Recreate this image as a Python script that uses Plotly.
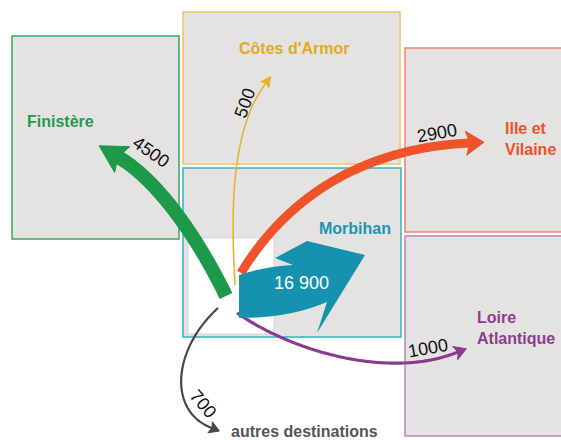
import numpy as np
import plotly.graph_objects as go

# ---------------- data ----------------
destinations = ["Finistère", "Côtes d'Armor", "Ille et Vilaine", "Morbihan",
                "Loire Atlantique", "autres destinations"]
flows = [4500, 500, 2900, 16900, 1000, 700]
flow_labels = ["4500", "500", "2900", "16 900", "1000", "700"]

# ---------------- styling / geometry (pixel space) ----------------
W, H = 561, 440
BOX_FILL = "#e5e3e2"
arrow_col = {"Finistère": "#1c9a4a", "Côtes d'Armor": "#e6b42c", "Ille et Vilaine": "#f0522a",
             "Morbihan": "#1592b0", "Loire Atlantique": "#8c3a8e", "autres destinations": "#474747"}
text_col = {"Finistère": "#1f9b4b", "Côtes d'Armor": "#e2aa22", "Ille et Vilaine": "#ef5027",
            "Morbihan": "#1a95b5", "Loire Atlantique": "#8e3c90", "autres destinations": "#555555"}
border_col = {"Finistère": "#3aa863", "Côtes d'Armor": "#e9c56a", "Ille et Vilaine": "#ec8272",
              "Morbihan": "#35b2c4", "Loire Atlantique": "#b985c0"}
boxes = {"Finistère": (12, 36, 179, 239), "Côtes d'Armor": (183, 12, 400, 164),
         "Morbihan": (183, 168, 401, 337), "Ille et Vilaine": (405, 48, 566, 232),
         "Loire Atlantique": (405, 236, 566, 436)}

# bezier control points of the curved flows
curves = {
    "Finistère": [(226, 296), (204, 250), (162, 182), (118, 157)],
    "Côtes d'Armor": [(235, 285), (231, 215), (230, 130), (266, 83)],
    "Ille et Vilaine": [(241, 273), (285, 200), (360, 148), (470, 143)],
    "Loire Atlantique": [(237, 313), (300, 356), (395, 378), (458, 352)],
    "autres destinations": [(218, 308), (172, 350), (168, 412), (212, 428)],
}
head_size = {"Finistère": (27, 15, 5), "Côtes d'Armor": (10, 5, 2), "Ille et Vilaine": (18, 12, 4),
             "Loire Atlantique": (12, 7, 3), "autres destinations": (10, 6, 2)}
K = 0.0031  # stroke width per flow unit


def bezier(p, n=120):
    p = np.array(p, dtype=float)
    t = np.linspace(0, 1, n)[:, None]
    return ((1 - t) ** 3) * p[0] + 3 * ((1 - t) ** 2) * t * p[1] + 3 * (1 - t) * t ** 2 * p[2] + t ** 3 * p[3]


def head(p_end, p_prev, L, hw, notch):
    d = np.array(p_end, float) - np.array(p_prev, float)
    d /= np.linalg.norm(d)
    nrm = np.array([-d[1], d[0]])
    base = np.array(p_end, float) - d * notch
    tip = base + d * L
    a = base + nrm * hw
    b = base - nrm * hw
    c = base + d * notch
    pts = [tip, a, c, b, tip]
    return [q[0] for q in pts], [q[1] for q in pts]


fig = go.Figure()
shapes = []
for name, (x0, y0, x1, y1) in boxes.items():
    shapes.append(dict(type="rect", x0=x0, y0=y0, x1=x1, y1=y1, fillcolor=BOX_FILL,
                       line=dict(color=border_col[name], width=1.5), layer="below"))
# white inner area in Morbihan
shapes.append(dict(type="rect", x0=188, y0=238, x1=274, y1=334, fillcolor="#ffffff",
                   line=dict(color="#d6d6d6", width=1), layer="below"))

# curved flows
for name, val in zip(destinations, flows):
    if name == "Morbihan":
        continue
    pts = bezier(curves[name])
    col = arrow_col[name]
    fig.add_trace(go.Scatter(x=pts[:, 0], y=pts[:, 1], mode="lines",
                             line=dict(color=col, width=max(val * K, 1.5), shape="spline"),
                             hoverinfo="skip", showlegend=False))
    L, hw, notch = head_size[name]
    hx, hy = head(pts[-1], pts[-4], L, hw, notch)
    fig.add_trace(go.Scatter(x=hx, y=hy, mode="lines", fill="toself", fillcolor=col,
                             line=dict(color=col, width=1), hoverinfo="skip", showlegend=False))

# big Morbihan block arrow
shapes.append(dict(type="path",
                   path="M 239 275 Q 262 267 293 265 L 275 258 L 307 241 L 365 255 "
                        "L 317 333 L 327 302 Q 290 318 239 318 Z",
                   fillcolor=arrow_col["Morbihan"], line=dict(width=0)))

# box labels
ann = []
def lab(text, x, y, col, size=16, xanchor="center", align="center"):
    ann.append(dict(text=text, x=x, y=y, xref="x", yref="y", showarrow=False,
                    font=dict(family="Liberation Sans, Arial", size=size, color=col),
                    xanchor=xanchor, yanchor="middle", align=align))

lab("<b>Finistère</b>", 60, 121, text_col["Finistère"])
lab("<b>Côtes d'Armor</b>", 294, 48, text_col["Côtes d'Armor"])
lab("<b>Ille et<br>Vilaine</b>", 503, 139, text_col["Ille et Vilaine"], xanchor="left", align="left")
lab("<b>Morbihan</b>", 355, 228, text_col["Morbihan"])
lab("<b>Loire<br>Atlantique</b>", 475, 328, text_col["Loire Atlantique"], xanchor="left", align="left")
lab("<b>autres destinations</b>", 304, 431, text_col["autres destinations"])

# flow value labels
val_pos = {"Finistère": (151, 152, 35), "Côtes d'Armor": (245, 103, -70),
           "Ille et Vilaine": (437, 133, -10), "Morbihan": (301, 283, 0),
           "Loire Atlantique": (428, 348, -10), "autres destinations": (203, 404, 50)}
for name, txt in zip(destinations, flow_labels):
    x, y, ang = val_pos[name]
    ann.append(dict(text=txt, x=x, y=y, xref="x", yref="y", showarrow=False, textangle=ang,
                    font=dict(family="Liberation Sans, Arial", size=18,
                              color="#ffffff" if name == "Morbihan" else "#111111"),
                    xanchor="center", yanchor="middle"))

fig.update_layout(width=W, height=H, margin=dict(l=0, r=0, t=0, b=0),
                  paper_bgcolor="white", plot_bgcolor="white",
                  xaxis=dict(range=[0, W], visible=False, fixedrange=True),
                  yaxis=dict(range=[H, 0], visible=False, fixedrange=True),
                  shapes=shapes, annotations=ann, showlegend=False)
fig.write_html("out.html", config={"displayModeBar": False},
               post_script="document.body.style.margin='0';document.body.style.overflow='hidden';")
